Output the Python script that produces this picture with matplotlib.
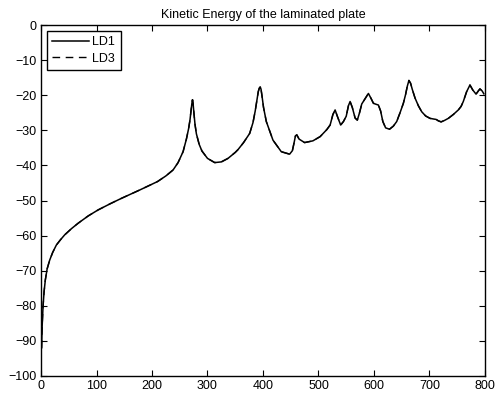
import matplotlib
matplotlib.use("Agg")
import matplotlib.pyplot as plt

plt.rcParams['font.family'] = ['Liberation Sans', 'DejaVu Sans']

title = "Kinetic Energy of the laminated plate"
series_labels = ["LD1", "LD3"]
x_ticks = [0, 100, 200, 300, 400, 500, 600, 700, 800]
y_ticks = [-100, -90, -80, -70, -60, -50, -40, -30, -20, -10, 0]

freq = [1, 2, 3.6, 5.5, 7.8, 11, 15.6, 21, 27.6, 35, 42.6, 55, 66.7, 85,
        102.7, 125, 144.7, 178, 210, 225, 238, 247, 256, 262, 266, 268.5,
        270.5, 272, 273, 274, 275.5, 277.5, 280, 285, 290, 300, 313, 325,
        337, 350, 355, 365, 376, 382, 386, 389, 391.5, 393.5, 395, 396.5,
        398.5, 401, 406, 418, 433, 448, 453, 456, 458.5, 461, 465, 475,
        490, 503, 515, 521, 526, 530, 534, 540, 545, 550, 554, 557, 561,
        566, 570, 574, 578, 584, 590, 595, 599, 604, 608, 612, 616, 621,
        628, 635, 641, 647, 653, 657, 660, 663, 666, 669, 674, 680, 686,
        693, 701, 708, 712, 716, 721, 727, 734, 743, 752, 757, 761, 767,
        773, 778, 784, 788, 791, 795, 798]

ld1_db = [-92, -86, -80.3, -76, -72.6, -69.5, -67, -64.8, -62.7, -61.2,
          -59.8, -58, -56.5, -54.4, -52.7, -50.9, -49.4, -47, -44.6, -43,
          -41.3, -39.2, -36.1, -32.5, -29.5, -27, -24.2, -22.2, -21.3,
          -22.3, -25, -28.3, -31, -34, -35.9, -38, -39.2, -39, -38, -36.3,
          -35.5, -33.5, -30.9, -27.8, -24.5, -21.5, -19, -17.9, -17.6,
          -18.3, -20.5, -23.5, -27.5, -32.8, -36.1, -36.8, -35.8, -33.6,
          -31.6, -31.3, -32.5, -33.5, -33, -31.8, -29.8, -28.5, -25.5,
          -24.2, -26, -28.5, -27.5, -26, -23, -21.8, -23.5, -26.5, -27.1,
          -25, -22.5, -21, -19.5, -21, -22.3, -22.6, -22.8, -24.5, -27.5,
          -29.3, -29.7, -28.8, -27.5, -25, -22.3, -19.8, -17.5, -15.8,
          -16.6, -18.3, -20.8, -23, -24.7, -25.9, -26.6, -26.8, -26.9,
          -27.3, -27.6, -27.2, -26.6, -25.5, -24.2, -23.2, -21.8, -19,
          -17.1, -18.5, -19.7, -18.8, -18.2, -18.8, -19.6]

# The two laminate models give coincident responses over this band
ld3_db = list(ld1_db)

fig = plt.figure(figsize=(4.96, 4.0), dpi=100)
ax = fig.add_axes([0.0827, 0.06, 0.895, 0.8775])

h1, = ax.plot(freq, ld1_db, color='black', linewidth=1.1, linestyle='-',
              label=series_labels[0], zorder=3)
h3, = ax.plot(freq, ld3_db, color='black', linewidth=1.0,
              linestyle=(0, (5.5, 4)), label=series_labels[1], zorder=2)

ax.set_xlim(0, 800)
ax.set_ylim(-100, 0)
ax.set_xticks(x_ticks)
ax.set_yticks(y_ticks)
ax.set_xticklabels([str(v) for v in x_ticks])
ax.set_yticklabels([str(v).replace('-', '\u2212') for v in y_ticks])
ax.tick_params(direction='in', length=4, width=0.8, labelsize=9,
               top=True, right=True, pad=3, colors='black')
for side in ax.spines.values():
    side.set_linewidth(1.0)
    side.set_color('black')

ax.set_title(title, fontsize=9, pad=5)

leg = ax.legend(handles=[h1, h3], loc='upper left', fontsize=9,
                frameon=True, fancybox=False, edgecolor='black',
                framealpha=1, borderpad=0.45, handlelength=2.9,
                handletextpad=0.3, labelspacing=0.35, borderaxespad=0.45)
leg.get_frame().set_linewidth(1.0)

fig.savefig("out.png", dpi=100)
